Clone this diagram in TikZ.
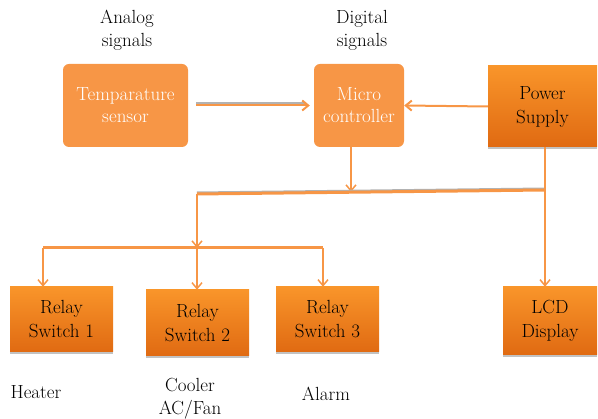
\documentclass[tikz,border=0pt]{standalone}
\usepackage{fontspec}
\usetikzlibrary{arrows.meta,shadows}
\definecolor{orfill}{HTML}{F79646}
\definecolor{ortop}{HTML}{F9952A}
\definecolor{orbot}{HTML}{E06A12}
\definecolor{orline}{HTML}{F79646}
\begin{document}
\begin{tikzpicture}[x=1pt,y=-1pt,
  softbox/.style={rounded corners=6pt, fill=orfill, text=white, align=center,
    font=\fontsize{19}{22}\selectfont},
  gradbox/.style={top color=ortop, bottom color=orbot, align=center,
    font=\fontsize{19}{24}\selectfont,
    drop shadow={shadow xshift=0pt, shadow yshift=-2pt, fill=black!40, opacity=0.6}},
  lbl/.style={align=center, font=\fontsize{19}{23}\selectfont},
  conn/.style={draw=orline, line width=2pt},
  thin/.style={draw=orline, line width=1.5pt},
  tip/.style={-{Straight Barb[length=6pt,width=10pt]}}
]
\useasboundingbox (0,0) rectangle (598,419);
\node[softbox, minimum width=125pt, minimum height=83pt] (temp) at (125.5,105.5) {Temparature\\sensor};
\node[softbox, minimum width=90pt, minimum height=83pt] (micro) at (359,105.5) {Micro\\controller};
\node[gradbox, minimum width=109pt, minimum height=81pt] (power) at (542.5,106.5) {Power\\Supply};
\node[gradbox, minimum width=103pt, minimum height=65pt] (r1) at (61.5,319.5) {Relay\\Switch 1};
\node[gradbox, minimum width=103pt, minimum height=66pt] (r2) at (197.5,323) {Relay\\Switch 2};
\node[gradbox, minimum width=103pt, minimum height=65pt] (r3) at (327.5,319.5) {Relay\\Switch 3};
\node[gradbox, minimum width=94pt, minimum height=68pt] (lcd) at (550,321) {LCD\\Display};

\node[lbl] (analog) at (127,30) {Analog\\signals};
\node[lbl] (digital) at (362,30) {Digital\\signals};
\node[lbl] (heater) at (36,392) {Heater};
\node[lbl] (cooler) at (190,399) {Cooler\\AC/Fan};
\node[lbl] (alarm) at (326,394) {Alarm};

\coordinate (b1l) at (197,194);
\coordinate (b1m) at (351,192);
\coordinate (b1r) at (545,190);
\coordinate (b2l) at (43,248);
\coordinate (b2m) at (197,248);
\coordinate (b2r) at (323,248);

\draw[draw=black!30, line width=2.5pt] ([shift={(8pt,2pt)}]temp.east) -- ([shift={(-8pt,2pt)}]micro.west);
\draw[conn, tip] ([xshift=8pt]temp.east) -- ([xshift=-4pt]micro.west);
\draw[conn, tip] (power.west) -- (micro.east);
\draw[thin, tip] (micro.south -| b1m) -- (b1m);
\draw[draw=black!30, line width=2pt] ([yshift=1.5pt]b1l) -- ([yshift=1.5pt]b1r);
\draw[conn, line width=3pt] (b1l) -- (b1r);
\draw[thin] (power.south -| b1r) -- (b1r);
\draw[thin, tip] (b1r) -- (lcd.north -| b1r);
\draw[thin, tip] (b1l) -- (b2m);
\draw[conn, line width=3pt] (b2l) -- (b2r);
\draw[thin, tip] (b2l) -- (r1.north -| b2l);
\draw[thin, tip] (b2m) -- (r2.north -| b2m);
\draw[thin, tip] (b2r) -- (r3.north -| b2r);
\end{tikzpicture}
\end{document}
